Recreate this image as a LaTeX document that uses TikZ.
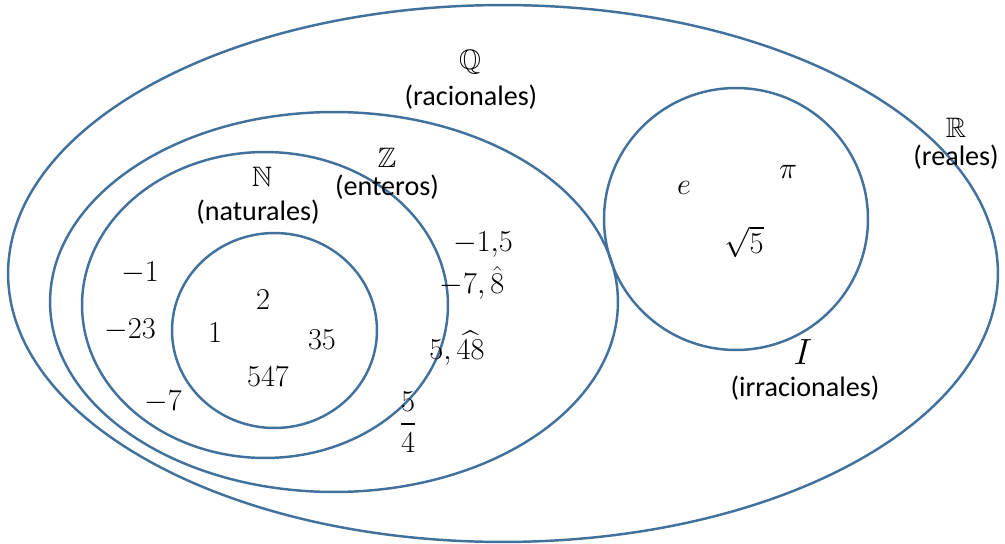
\documentclass[tikz,border=0pt]{standalone}
\usepackage{amsmath, amssymb}
\usepackage{fontspec}
\setmainfont{Carlito}
\usepackage{tikz}
\usetikzlibrary{positioning}
\definecolor{SetBlue}{RGB}{65,113,156}
\tikzset{
  % conjuntos
  set/.style={draw=SetBlue,line width=1.4pt},
  % etiquetas
  setname/.style={inner sep=0pt,font=\fontsize{16}{18}\selectfont},
  setlabel/.style={inner sep=0pt,font=\fontsize{16}{18}\selectfont},
  num/.style={inner sep=0pt,font=\fontsize{17}{19}\selectfont}
}
\begin{document}
\begin{tikzpicture}[x=0.02cm,y=-0.02cm]
    \useasboundingbox (0,0) rectangle (1005,544);
    % conjuntos
    \draw[set] (503,273.5) ellipse [x radius=9.9cm, y radius=5.37cm];
    \draw[set] (334,302) ellipse [x radius=5.68cm, y radius=3.8cm];
    \draw[set] (265,305) ellipse [x radius=3.66cm, y radius=3.06cm];
    \draw[set] (274.5,330.5) ellipse [x radius=2.05cm, y radius=1.95cm];
    \draw[set] (736,219) ellipse [x radius=2.64cm, y radius=2.62cm];
    % nombres
    \node[setname] (Q) at (470,62) {$\mathbb{Q}$};
    \node[setlabel] (Qlab) at (471,97) {(racionales)};
    \node[setname] (Z) at (387,158) {$\mathbb{Z}$};
    \node[setlabel] (Zlab) at (387,187) {(enteros)};
    \node[setname] (N) at (262,177) {$\mathbb{N}$};
    \node[setlabel] (Nlab) at (258,212) {(naturales)};
    \node[setname] (R) at (956,128) {$\mathbb{R}$};
    \node[setlabel] (Rlab) at (956,157) {(reales)};
    \node[setname,font=\fontsize{20}{22}\selectfont] (I) at (803,352) {$I$};
    \node[setlabel] (Ilab) at (805,388) {(irracionales)};
    % irracionales
    \node[num] (e) at (684,188) {$e$};
    \node[num] (pi) at (788,172) {$\pi$};
    \node[num] (sqrt5) at (744,242) {$\sqrt{5}$};
    % racionales
    \node[num] (q1) at (483,245) {$-1{,}5$};
    \node[num] (q2) at (472,283) {$-7,\hat{8}$};
    \node[num] (q3) at (457,348) {$5,\widehat{48}$};
    \node[num] (q4) at (408,422) {$\dfrac{5}{4}$};
    % enteros
    \node[num] (z1) at (140,273) {$-1$};
    \node[num] (z2) at (130,330) {$-23$};
    \node[num] (z3) at (163,402) {$-7$};
    % naturales
    \node[num] (n1) at (263,300) {$2$};
    \node[num] (n2) at (215,333) {$1$};
    \node[num] (n3) at (322,340) {$35$};
    \node[num] (n4) at (268,377) {$547$};
\end{tikzpicture}
\end{document}
